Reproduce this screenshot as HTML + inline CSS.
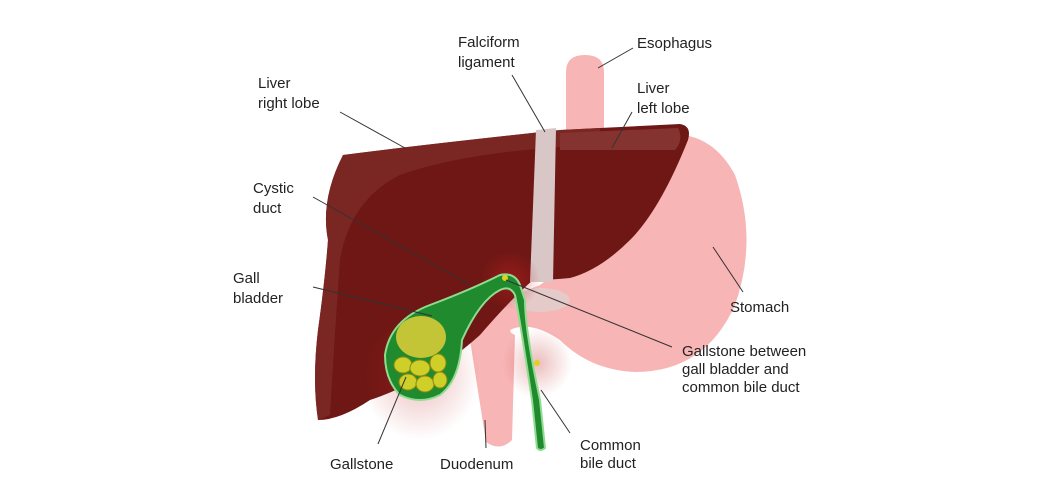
<!DOCTYPE html>
<html><head><meta charset="utf-8"><style>
html,body{margin:0;padding:0;background:#fff;}
svg{display:block}
text{font-family:"Liberation Sans",sans-serif;font-size:15px;fill:#222}
</style></head><body>
<svg width="1060" height="503" viewBox="0 0 1060 503">
<defs>
<radialGradient id="rg" cx="0.5" cy="0.5" r="0.5">
<stop offset="0" stop-color="#c02020" stop-opacity="0.5"/><stop offset="1" stop-color="#c02020" stop-opacity="0"/>
</radialGradient>
</defs>
<!-- esophagus -->
<path d="M566,130 L566,72 Q566,55 585,55 Q604,55 604,72 L604,135 Z" fill="#f7b5b5"/>
<!-- stomach -->
<path d="M660,135 Q710,128 735,175 Q758,240 735,305 Q705,372 635,372 Q590,370 560,340 Q530,320 510,330 L515,345 Q505,345 495,340 L480,330 Q500,300 540,285 L600,240 Z" fill="#f7b5b5"/>
<!-- duodenum -->
<path d="M470,340 Q490,320 515,335 L512,440 Q500,452 486,442 Z" fill="#f7b5b5"/>
<ellipse cx="540" cy="300" rx="30" ry="12" fill="#d8d8d8" opacity="0.6"/>
<!-- liver -->
<path d="M343,155 Q420,145 560,130 L680,124 Q692,126 688,140 Q660,210 630,240 Q600,270 570,278 Q550,280 533,280 Q510,300 480,335 Q430,380 370,400 Q340,420 318,420 Q312,380 318,330 Q325,280 328,240 Q320,200 343,155 Z" fill="#6e1714"/>
<path d="M343,155 Q420,145 560,130 L600,128 L600,145 Q470,150 400,175 Q350,200 340,260 Q335,330 330,415 L318,420 Q312,380 318,330 Q325,280 328,240 Q320,200 343,155Z" fill="#7d2a25" opacity="0.8"/>
<path d="M560,133 L678,128 Q684,140 675,150 L560,150 Z" fill="#853330"/>
<!-- ligament -->
<path d="M536,130 L556,128 L553,282 L530,282 Z" fill="#d9c6c6"/>
<!-- glow -->
<circle cx="510" cy="280" r="30" fill="url(#rg)"/>
<circle cx="537" cy="363" r="35" fill="url(#rg)" opacity="0.6"/>
<ellipse cx="420" cy="375" rx="60" ry="65" fill="url(#rg)" opacity="0.6"/>
<!-- gallbladder -->
<path d="M385,355 Q390,320 430,305 Q470,290 500,275 Q515,272 520,285 L525,300 Q525,330 540,400 L545,448 Q540,452 537,448 L532,400 Q520,320 515,295 Q510,285 500,290 Q480,300 462,340 Q460,380 440,395 Q420,405 400,395 Q385,380 385,355 Z" fill="#1f8a2e" stroke="#8fdc8f" stroke-width="2"/>
<ellipse cx="421" cy="337" rx="25" ry="21" fill="#c4c437"/>
<g fill="#cfcf2a" stroke="#8a8a10" stroke-width="1">
<ellipse cx="403" cy="365" rx="9" ry="8"/><ellipse cx="420" cy="368" rx="10" ry="8"/><ellipse cx="438" cy="363" rx="8" ry="9"/>
<ellipse cx="408" cy="382" rx="9" ry="8"/><ellipse cx="425" cy="384" rx="9" ry="8"/><ellipse cx="440" cy="380" rx="7" ry="8"/>
</g>
<circle cx="505" cy="278" r="3" fill="#e0d020"/>
<circle cx="537" cy="363" r="3" fill="#e0d020"/>
<!-- leader lines -->
<g stroke="#333" stroke-width="1" fill="none">
<line x1="340" y1="112" x2="405" y2="148"/>
<line x1="512" y1="75" x2="545" y2="132"/>
<line x1="633" y1="48" x2="598" y2="68"/>
<line x1="632" y1="112" x2="612" y2="148"/>
<line x1="313" y1="197" x2="470" y2="285"/>
<line x1="313" y1="287" x2="432" y2="316"/>
<line x1="506" y1="280" x2="672" y2="347"/>
<line x1="713" y1="247" x2="743" y2="292"/>
<line x1="406" y1="377" x2="378" y2="444"/>
<line x1="485" y1="420" x2="486" y2="448"/>
<line x1="541" y1="390" x2="570" y2="433"/>
</g>
<text x="258" y="88">Liver</text><text x="258" y="108">right lobe</text>
<text x="458" y="47">Falciform</text><text x="458" y="67">ligament</text>
<text x="637" y="48">Esophagus</text>
<text x="637" y="93">Liver</text><text x="637" y="113">left lobe</text>
<text x="253" y="193">Cystic</text><text x="253" y="213">duct</text>
<text x="233" y="283">Gall</text><text x="233" y="303">bladder</text>
<text x="730" y="312">Stomach</text>
<text x="682" y="356">Gallstone between</text><text x="682" y="374">gall bladder and</text><text x="682" y="392">common bile duct</text>
<text x="330" y="469">Gallstone</text>
<text x="440" y="469">Duodenum</text>
<text x="580" y="450">Common</text><text x="580" y="468">bile duct</text>
</svg>
</body></html>
